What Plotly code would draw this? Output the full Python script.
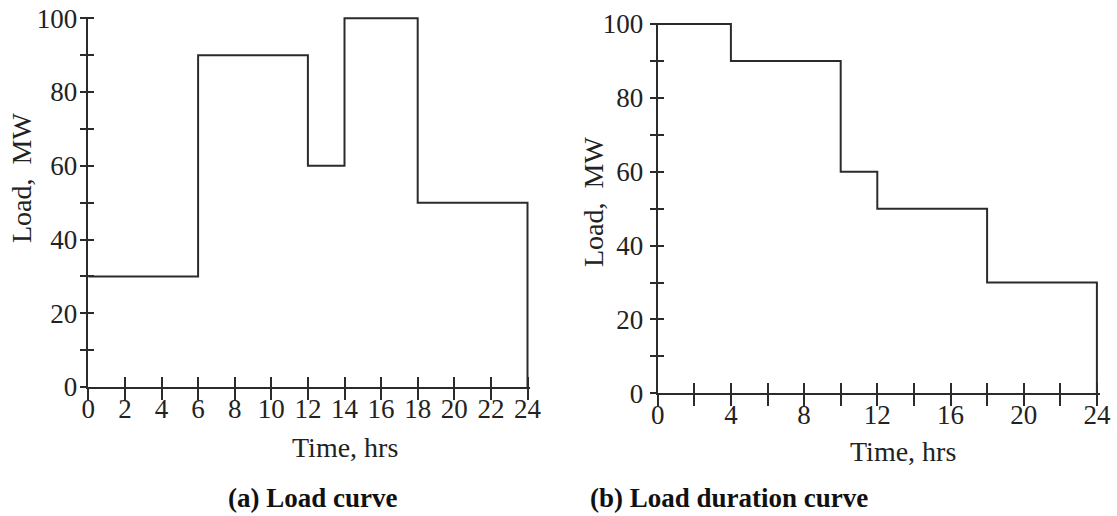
import plotly.graph_objects as go

# ---- data ----
load_curve_start_hrs = [0, 6, 12, 14, 18]
load_curve_mw = [30, 90, 60, 100, 50]
duration_start_hrs = [0, 4, 10, 12, 18]
duration_mw = [100, 90, 60, 50, 30]
day_end_hrs = 24

y_tickvals = [0, 10, 20, 30, 40, 50, 60, 70, 80, 90, 100]
y_ticktext = ["0", "", "20", "", "40", "", "60", "", "80", "", "100"]
xa_tickvals = [0, 2, 4, 6, 8, 10, 12, 14, 16, 18, 20, 22, 24]
xa_ticktext = ["0", "2", "4", "6", "8", "10", "12", "14", "16", "18", "20", "22", "24"]
xb_tickvals = [0, 2, 4, 6, 8, 10, 12, 14, 16, 18, 20, 22, 24]
xb_ticktext = ["0", "", "4", "", "8", "", "12", "", "16", "", "20", "", "24"]

x_title = "Time, hrs"
y_title = "Load,\u00a0 MW"
caption_a = "(a) Load curve"
caption_b = "(b) Load duration curve"

W, H = 1117, 516
FONT = "Liberation Serif"
INK = "#2b2b2b"


def step_xy(starts, loads, end):
    xs = list(starts) + [end, end]
    ys = list(loads) + [loads[-1], 0]
    return xs, ys


fig = go.Figure()
xa, ya = step_xy(load_curve_start_hrs, load_curve_mw, day_end_hrs)
xb, yb = step_xy(duration_start_hrs, duration_mw, day_end_hrs)
fig.add_trace(go.Scatter(x=xa, y=ya, mode="lines", line=dict(shape="hv", color=INK, width=2),
                         xaxis="x", yaxis="y", showlegend=False, hoverinfo="skip"))
fig.add_trace(go.Scatter(x=xb, y=yb, mode="lines", line=dict(shape="hv", color=INK, width=2),
                         xaxis="x2", yaxis="y2", showlegend=False, hoverinfo="skip"))
# transparent copies so the overlay axes (inner tick halves + labels) get drawn
fig.add_trace(go.Scatter(x=xa, y=ya, mode="lines", line=dict(shape="hv", color="rgba(0,0,0,0)", width=0),
                         xaxis="x3", yaxis="y3", showlegend=False, hoverinfo="skip"))
fig.add_trace(go.Scatter(x=xb, y=yb, mode="lines", line=dict(shape="hv", color="rgba(0,0,0,0)", width=0),
                         xaxis="x4", yaxis="y4", showlegend=False, hoverinfo="skip"))

XR = [0, 24.15]
YR = [0, 100.4]
tickfont = dict(family=FONT, size=27, color="#222")

# pixel layout
def dom_x(x0px, pxper, rng):
    return [x0px / W, (x0px + pxper * (rng[1] - rng[0])) / W]

def dom_y(y0px_top, pxper, rng):
    b = H - y0px_top
    return [b / H, (b + pxper * (rng[1] - rng[0])) / H]

dxa = dom_x(88.3, 18.3, XR)
dya = dom_y(387.0, 3.687, YR)
dxb = dom_x(657.7, 18.3, XR)
dyb = dom_y(393.3, 3.693, YR)

base = dict(showgrid=False, zeroline=False, tickcolor=INK, tickwidth=2, tickfont=tickfont,
            tickmode="array", fixedrange=True, automargin=False)

# main axes: line + outward half of the crossing ticks
def x_main(dom, anchor, tv):
    return dict(base, domain=dom, anchor=anchor, range=XR, tickvals=tv, showline=True,
                linecolor=INK, linewidth=2, ticks="outside", ticklen=11, showticklabels=False)

def y_main(dom, anchor, labels, standoff=2):
    d = dict(base, domain=dom, anchor=anchor, range=YR, tickvals=y_tickvals, showline=True,
             linecolor=INK, linewidth=2, ticks="outside", ticklen=6)
    if labels:
        d.update(ticktext=y_ticktext, showticklabels=True, ticklabelstandoff=standoff)
    else:
        d.update(showticklabels=False)
    return d

# overlay axes: inward half of the crossing ticks (+ labels close to the axis line)
def x_in(overlay, anchor, tv, tt):
    return dict(base, overlaying=overlay, anchor=anchor, range=XR, tickvals=tv, ticktext=tt,
                ticks="inside", ticklen=10, showticklabels=True, showline=False,
                ticklabelstandoff=3)

def y_in(overlay, anchor, labels, standoff=3):
    d = dict(base, overlaying=overlay, anchor=anchor, range=YR, tickvals=y_tickvals,
             ticks="inside", ticklen=6, showline=False)
    if labels:
        d.update(ticktext=y_ticktext, showticklabels=True, ticklabelstandoff=standoff)
    else:
        d.update(showticklabels=False)
    return d

fig.update_layout(
    width=W, height=H, autosize=False,
    margin=dict(l=0, r=0, t=0, b=0, pad=0),
    paper_bgcolor="white", plot_bgcolor="rgba(0,0,0,0)",
    font=dict(family=FONT, color="#222"),
    xaxis=x_main(dxa, "y", xa_tickvals),
    yaxis=y_main(dya, "x", labels=False),
    xaxis2=x_main(dxb, "y2", xb_tickvals),
    yaxis2=y_main(dyb, "x2", labels=True, standoff=1),
    xaxis3=x_in("x", "y3", xa_tickvals, xa_ticktext),
    yaxis3=y_in("y", "x3", labels=True, standoff=10),
    xaxis4=x_in("x2", "y4", xb_tickvals, xb_ticktext),
    yaxis4=y_in("y2", "x4", labels=False),
)

tfont = dict(family=FONT, size=28, color="#222")
cfont = dict(family=FONT, size=27, color="#111")
ann = [
    dict(text=x_title, xref="x", yref="paper", x=14.0, y=(H - 447) / H,
         xanchor="center", yanchor="middle", showarrow=False, font=tfont),
    dict(text=x_title, xref="x2", yref="paper", x=13.4, y=(H - 451) / H,
         xanchor="center", yanchor="middle", showarrow=False, font=tfont),
    dict(text=y_title, xref="paper", yref="paper", x=22 / W, y=(H - 178) / H,
         xanchor="center", yanchor="middle", textangle=-90, showarrow=False, font=tfont),
    dict(text=y_title, xref="paper", yref="paper", x=593 / W, y=(H - 202) / H,
         xanchor="center", yanchor="middle", textangle=-90, showarrow=False, font=tfont),
    dict(text="<b>" + caption_a + "</b>", xref="paper", yref="paper", x=226 / W, y=(H - 498) / H,
         xanchor="left", yanchor="middle", showarrow=False, font=cfont),
    dict(text="<b>" + caption_b + "</b>", xref="paper", yref="paper", x=588 / W, y=(H - 498) / H,
         xanchor="left", yanchor="middle", showarrow=False, font=cfont),
]
fig.update_layout(annotations=ann)

fig.write_html("out.html")
